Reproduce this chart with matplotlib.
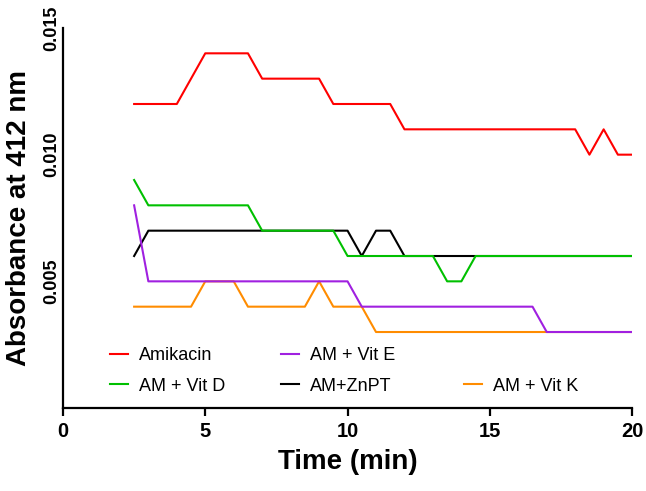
import matplotlib
matplotlib.use("Agg")
import matplotlib.pyplot as plt
from matplotlib.lines import Line2D

plt.rcParams["font.family"] = ["Liberation Sans", "DejaVu Sans"]

# time points (min)
time = [2.5, 3, 3.5, 4, 4.5, 5, 5.5, 6, 6.5, 7, 7.5, 8, 8.5, 9, 9.5, 10, 10.5, 11,
        11.5, 12, 12.5, 13, 13.5, 14, 14.5, 15, 15.5, 16, 16.5, 17, 17.5, 18, 18.5,
        19, 19.5, 20]

amikacin = [0.012, 0.012, 0.012, 0.012, 0.013, 0.014, 0.014, 0.014, 0.014, 0.013,
            0.013, 0.013, 0.013, 0.013, 0.012, 0.012, 0.012, 0.012, 0.012, 0.011,
            0.011, 0.011, 0.011, 0.011, 0.011, 0.011, 0.011, 0.011, 0.011, 0.011,
            0.011, 0.011, 0.010, 0.011, 0.010, 0.010]
vit_d = [0.009, 0.008, 0.008, 0.008, 0.008, 0.008, 0.008, 0.008, 0.008, 0.007,
         0.007, 0.007, 0.007, 0.007, 0.007, 0.006, 0.006, 0.006, 0.006, 0.006,
         0.006, 0.006, 0.005, 0.005, 0.006, 0.006, 0.006, 0.006, 0.006, 0.006,
         0.006, 0.006, 0.006, 0.006, 0.006, 0.006]
vit_e = [0.008, 0.005, 0.005, 0.005, 0.005, 0.005, 0.005, 0.005, 0.005, 0.005,
         0.005, 0.005, 0.005, 0.005, 0.005, 0.005, 0.004, 0.004, 0.004, 0.004,
         0.004, 0.004, 0.004, 0.004, 0.004, 0.004, 0.004, 0.004, 0.004, 0.003,
         0.003, 0.003, 0.003, 0.003, 0.003, 0.003]
znpt = [0.006, 0.007, 0.007, 0.007, 0.007, 0.007, 0.007, 0.007, 0.007, 0.007,
        0.007, 0.007, 0.007, 0.007, 0.007, 0.007, 0.006, 0.007, 0.007, 0.006,
        0.006, 0.006, 0.006, 0.006, 0.006, 0.006, 0.006, 0.006, 0.006, 0.006,
        0.006, 0.006, 0.006, 0.006, 0.006, 0.006]
vit_k = [0.004, 0.004, 0.004, 0.004, 0.004, 0.005, 0.005, 0.005, 0.004, 0.004,
         0.004, 0.004, 0.004, 0.005, 0.004, 0.004, 0.004, 0.003, 0.003, 0.003,
         0.003, 0.003, 0.003, 0.003, 0.003, 0.003, 0.003, 0.003, 0.003, 0.003,
         0.003, 0.003, 0.003, 0.003, 0.003, 0.003]

labels = ["Amikacin", "AM + Vit D", "AM + Vit E", "AM+ZnPT", "AM + Vit K"]
colors = ["#ff0000", "#00c000", "#a020e0", "#000000", "#ff8c00"]

fig = plt.figure(figsize=(6.46, 4.91), dpi=100)
ax = fig.add_axes([0.0975, 0.169, 0.881, 0.774])

lw = 1.5
l_red, = ax.plot(time, amikacin, color=colors[0], lw=lw, zorder=2)
l_orange, = ax.plot(time, vit_k, color=colors[4], lw=lw, zorder=3)
l_black, = ax.plot(time, znpt, color=colors[3], lw=lw, zorder=4)
l_purple, = ax.plot(time, vit_e, color=colors[2], lw=lw, zorder=5)
l_green, = ax.plot(time, vit_d, color=colors[1], lw=lw, zorder=6)

ax.set_xlim(0, 20)
ax.set_ylim(0, 0.015)
ax.set_xticks([0, 5, 10, 15, 20])
ax.set_yticks([0.005, 0.010, 0.015])
ax.set_yticklabels(["0.005", "0.010", "0.015"])

for s in ["top", "right"]:
    ax.spines[s].set_visible(False)
for s in ["left", "bottom"]:
    ax.spines[s].set_linewidth(1.6)

ax.tick_params(axis="x", length=6, width=1.6, pad=4, labelsize=14.5)
ax.tick_params(axis="y", length=0, pad=2, labelsize=13, labelrotation=90)
for t in ax.get_xticklabels():
    t.set_fontweight("bold")
for t in ax.get_yticklabels():
    t.set_fontweight("bold")
    t.set_va("center")

ax.set_xlabel("Time (min)", fontsize=20, fontweight="bold", labelpad=6)
ax.set_ylabel("Absorbance at 412 nm", fontsize=20, fontweight="bold", labelpad=8)

blank = Line2D([], [], color="none")
leg_kw = dict(frameon=False, fontsize=13, handlelength=1.0, handletextpad=0.6,
              borderpad=0, borderaxespad=0, labelspacing=0.75, loc="upper left")
top = 1 - 347 / 491
leg1 = fig.legend([l_red, l_green], [labels[0], labels[1]],
                  bbox_to_anchor=(110 / 646, top), **leg_kw)
leg2 = fig.legend([l_purple, l_black], [labels[2], labels[3]],
                  bbox_to_anchor=(281 / 646, top), **leg_kw)
leg3 = fig.legend([blank, l_orange], ["", labels[4]],
                  bbox_to_anchor=(464 / 646, top), **leg_kw)

fig.savefig("out.png", dpi=100)
